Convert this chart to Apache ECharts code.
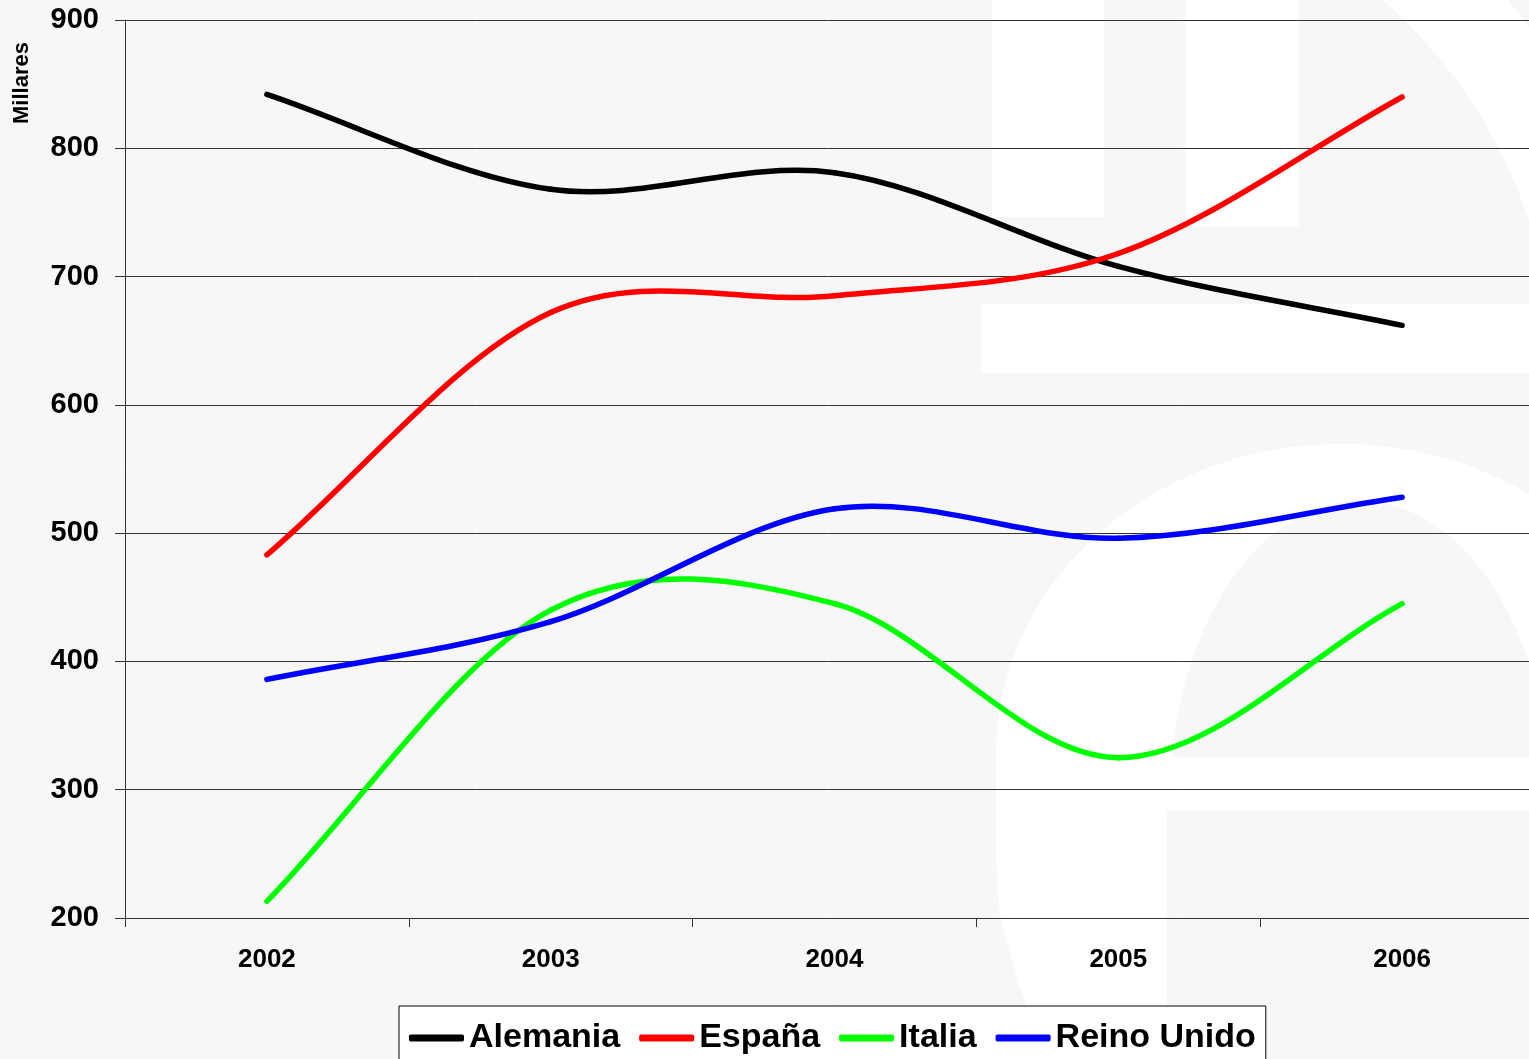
<!DOCTYPE html>
<html>
<head>
<meta charset="utf-8">
<style>
  html, body { margin: 0; padding: 0; background: #f7f7f7; }
  #main { width: 1529px; height: 1059px; }
</style>
<script src="https://cdn.jsdelivr.net/npm/echarts@6/dist/echarts.min.js"></script>
</head>
<body>
<div id="main"></div>
<script>
// data (thousands)
const years = ['2002', '2003', '2004', '2005', '2006'];
const alemania = [842, 768, 781, 708, 662];
const espana = [483, 672, 685, 718, 840];
const italia = [213, 440, 445, 325, 445];
const reinoUnido = [386, 431, 519, 496, 528];

const seriesNames = ['Alemania', 'España', 'Italia', 'Reino Unido'];
const seriesValues = [alemania, espana, italia, reinoUnido];
const colors = ['#000000', '#ff0000', '#00ff00', '#0000ff'];

const FONT = 'Liberation Sans, Arial, sans-serif';
const BG = '#f7f7f7';

const chart = echarts.init(document.getElementById('main'));

// excel-like smoothed line: cardinal spline through the points
function renderSmooth(params, api) {
  const vals = seriesValues[params.seriesIndex];
  const i = params.dataIndex;
  const n = vals.length;
  if (i >= n - 1) return;
  const pt = k => api.coord([k, vals[k]]);
  const get = k => {
    if (k < 0) { const a = pt(0), b = pt(1); return [2 * a[0] - b[0], 2 * a[1] - b[1]]; }
    if (k > n - 1) { const a = pt(n - 1), b = pt(n - 2); return [2 * a[0] - b[0], 2 * a[1] - b[1]]; }
    return pt(k);
  };
  const p0 = get(i - 1), p1 = get(i), p2 = get(i + 1), p3 = get(i + 2);
  return {
    type: 'bezierCurve',
    shape: {
      x1: p1[0], y1: p1[1],
      cpx1: p1[0] + (p2[0] - p0[0]) / 6, cpy1: p1[1] + (p2[1] - p0[1]) / 6,
      cpx2: p2[0] - (p3[0] - p1[0]) / 6, cpy2: p2[1] - (p3[1] - p1[1]) / 6,
      x2: p2[0], y2: p2[1]
    },
    style: {
      stroke: api.visual('color'),
      lineWidth: 5.5,
      fill: null,
      lineCap: 'round',
      lineJoin: 'round'
    }
  };
}

// faint logo watermark behind the plot
const wm = '#ffffff';
const graphic = [
  { type: 'rect', z: -10, shape: { x: 992, y: 0, width: 112, height: 217 }, style: { fill: wm } },
  { type: 'rect', z: -10, shape: { x: 1186, y: 0, width: 113, height: 226 }, style: { fill: wm } },
  { type: 'sector', z: -10, shape: { cx: 1050, cy: 380, r0: 505, r: 595, startAngle: -1.1, endAngle: -0.15 }, style: { fill: wm } },
  { type: 'rect', z: -10, shape: { x: 982, y: 304, width: 547, height: 69 }, style: { fill: wm } },
  { type: 'ellipse', z: -10, shape: { cx: 1341, cy: 755, rx: 345, ry: 311 }, style: { fill: wm } },
  { type: 'polygon', z: -10, shape: { points: [[996, 755], [1200, 755], [1200, 1059], [1047, 1059], [1018, 982], [1000, 917], [996, 860]] }, style: { fill: wm } },
  { type: 'ellipse', z: -9, shape: { cx: 1360, cy: 800, rx: 190, ry: 299 }, style: { fill: BG } },
  { type: 'rect', z: -8, shape: { x: 1170, y: 757, width: 359, height: 53 }, style: { fill: wm } },
  { type: 'rect', z: -8, shape: { x: 1167, y: 810, width: 362, height: 249 }, style: { fill: BG } },
  {
    type: 'text', x: 11, y: 124, rotation: Math.PI / 2,
    style: { text: 'Millares', font: 'bold 22px ' + FONT, fill: '#000' }
  }
];

const option = {
  backgroundColor: BG,
  animation: false,
  color: colors,
  graphic: graphic,
  grid: { left: 125, top: 20, right: -15, bottom: 141, outerBoundsMode: 'none' },
  legend: {
    data: seriesNames,
    left: 399,
    top: 1006,
    icon: 'roundRect',
    itemWidth: 55,
    itemHeight: 7,
    itemGap: 19,
    padding: [15, 10, 10, 10],
    backgroundColor: '#ffffff',
    borderColor: '#000000',
    borderWidth: 1,
    textStyle: { fontSize: 34, fontWeight: 'bold', color: '#000', fontFamily: FONT }
  },
  xAxis: {
    type: 'category',
    data: years,
    boundaryGap: true,
    axisLine: { lineStyle: { color: '#333', width: 1 } },
    axisTick: { show: true, length: 9, lineStyle: { color: '#333' } },
    axisLabel: { fontSize: 26, fontWeight: 'bold', color: '#000', fontFamily: FONT, margin: 29 },
    splitLine: { show: false }
  },
  yAxis: {
    type: 'value',
    min: 200,
    max: 900,
    interval: 100,
    axisLine: { show: true, lineStyle: { color: '#333', width: 1 } },
    axisTick: { show: true, length: 10, lineStyle: { color: '#333' } },
    axisLabel: { fontSize: 29, fontWeight: 'bold', color: '#000', fontFamily: FONT, margin: 26 },
    splitLine: { show: true, lineStyle: { color: '#333', width: 1 } }
  },
  series: seriesNames.map((name, s) => ({
    name: name,
    type: 'custom',
    coordinateSystem: 'cartesian2d',
    renderItem: renderSmooth,
    encode: { x: 0, y: 1 },
    data: seriesValues[s].map((v, i) => [i, v]),
    z: 3
  }))
};

chart.setOption(option);
</script>
</body>
</html>
